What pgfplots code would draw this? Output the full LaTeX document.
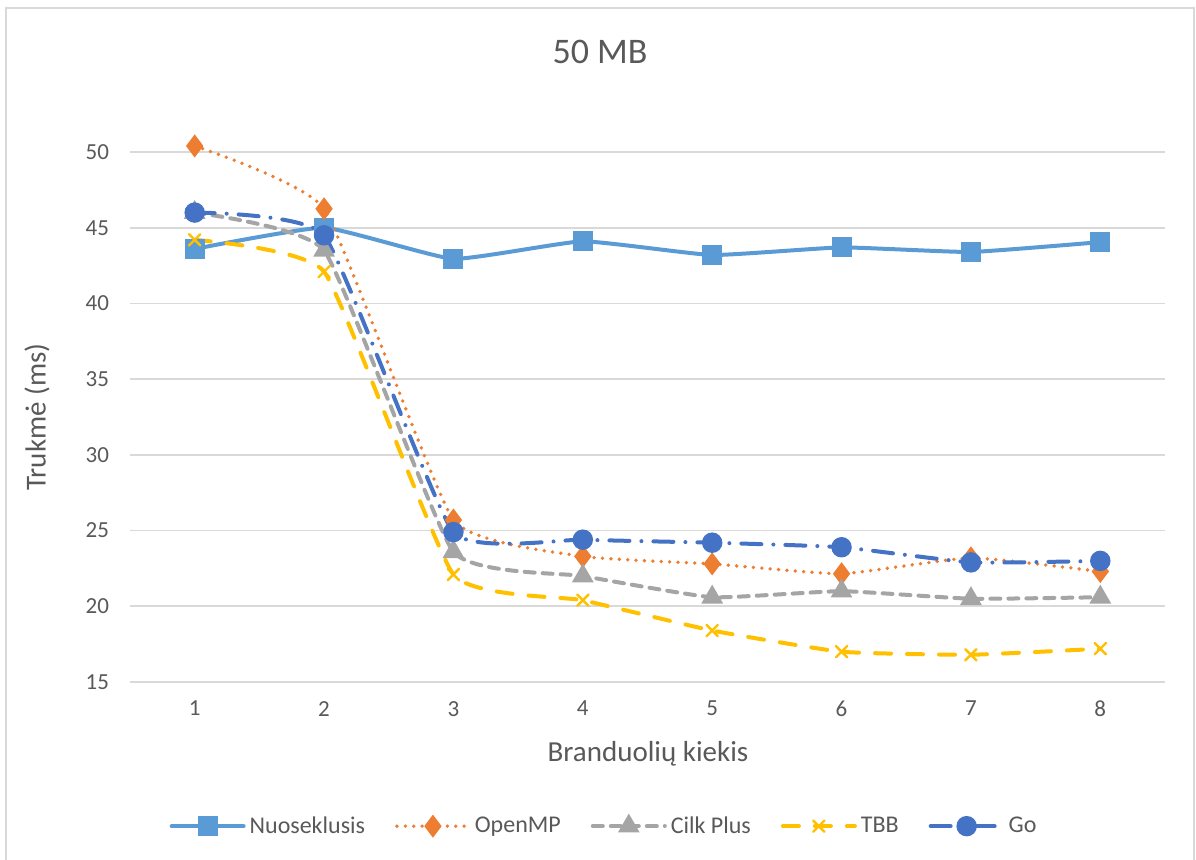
\documentclass[border=0pt]{standalone}
\usepackage{pgfplots}
\pgfplotsset{compat=1.18}
\usepackage{fontspec}
\setmainfont{Carlito}

\definecolor{txt}{HTML}{595959}
\definecolor{gridc}{HTML}{D9D9D9}
\definecolor{cSeq}{HTML}{5B9BD5}
\definecolor{cOmp}{HTML}{ED7D31}
\definecolor{cCilk}{HTML}{A5A5A5}
\definecolor{cTbb}{HTML}{FFC000}
\definecolor{cGo}{HTML}{4472C4}

\begin{document}
\begin{tikzpicture}
  % page frame: 1196 x 859 units at 0.5pt each
  \useasboundingbox (0pt,0pt) rectangle (598pt,-429.5pt);
  \draw[gridc, line width=0.8pt] (3pt,-432pt) -- (3pt,-4pt) -- (597pt,-4pt) -- (597pt,-432pt);

  \node[text=txt, font=\fontsize{18}{21}\selectfont] at (300pt,-26pt) {50 MB};
  \node[text=txt, font=\fontsize{14.5}{17}\selectfont] at (324pt,-377pt) {Branduolių kiekis};
  \node[text=txt, font=\fontsize{14.5}{17}\selectfont, rotate=90] at (18.5pt,-208.5pt) {Trukmė (ms)};

  \begin{axis}[
    at={(65pt,-341pt)}, anchor=south west,
    scale only axis, width=517.5pt, height=265pt,
    xmin=0.5, xmax=8.5, ymin=15, ymax=50,
    xtick={1,...,8}, ytick={15,20,...,50},
    clip=false,
    axis line style={draw=none},
    major tick length=0pt,
    ymajorgrids, grid style={gridc, line width=0.9pt},
    tick label style={text=txt, font=\fontsize{11.5}{13}\selectfont},
    /pgf/number format/assume math mode=true,
    yticklabel style={xshift=-7pt},
    xticklabel style={yshift=-6pt},
    every axis plot/.append style={line width=2pt, line cap=round, smooth, tension=0.25},
    legend columns=-1,
    legend style={at={(0.459,-0.272)}, anchor=center, draw=none, fill=none,
      font=\fontsize{12}{14}\selectfont, text=txt,
      /tikz/every even column/.append style={column sep=13pt}},
    legend image code/.code={%
      \draw[mark repeat=2, mark phase=2, #1] plot coordinates {(0pt,0pt) (18pt,0pt) (36pt,0pt)};},
  ]
    \addplot[cSeq, mark=square*, mark size=4pt, mark options={solid, fill=cSeq}]
      coordinates {(1,43.6) (2,45.0) (3,42.95) (4,44.1) (5,43.2) (6,43.7) (7,43.4) (8,44.05)};
    \addlegendentry{Nuoseklusis}

    \addplot[cOmp, line width=1.9pt, dash pattern=on 0pt off 4.2pt,
             mark=diamond*, mark size=4.2pt, mark options={solid, fill=cOmp}]
      coordinates {(1,50.4) (2,46.25) (3,25.7) (4,23.3) (5,22.8) (6,22.15) (7,23.2) (8,22.3)};
    \addlegendentry{OpenMP}

    \addplot[cCilk, dash pattern=on 5pt off 4pt,
             mark=triangle*, mark size=4.3pt, mark options={solid, fill=cCilk}]
      coordinates {(1,46.0) (2,43.5) (3,23.6) (4,22.0) (5,20.6) (6,21.0) (7,20.5) (8,20.6)};
    \addlegendentry{Cilk Plus}

    \addplot[cTbb, dash pattern=on 8pt off 8pt,
             mark=x, mark size=4pt, mark options={solid, line width=1.2pt}]
      coordinates {(1,44.2) (2,42.1) (3,22.1) (4,20.4) (5,18.4) (6,17.0) (7,16.8) (8,17.2)};
    \addlegendentry{TBB}

    \addplot[cGo, dash pattern=on 10pt off 6pt on 0pt off 6pt,
             mark=*, mark size=4.1pt, mark options={solid, fill=cGo}]
      coordinates {(1,46.0) (2,44.5) (3,24.9) (4,24.4) (5,24.2) (6,23.9) (7,22.9) (8,23.0)};
    \addlegendentry{Go}
  \end{axis}
\end{tikzpicture}
\end{document}
